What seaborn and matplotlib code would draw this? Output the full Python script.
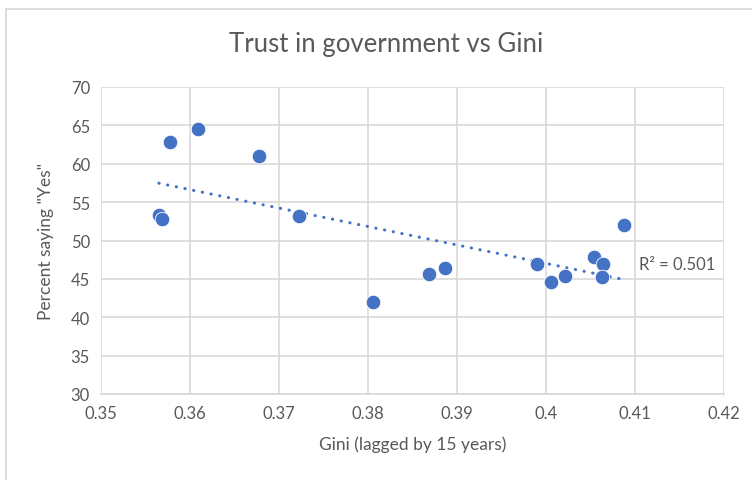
import numpy as np
import pandas as pd
import matplotlib
matplotlib.use("Agg")
import matplotlib.pyplot as plt
from matplotlib.patches import Rectangle
import seaborn as sns

# Gini coefficient (lagged by 15 years) and share of respondents trusting government
gini = [0.3565, 0.3569, 0.3577, 0.3609, 0.3678, 0.3723, 0.3806, 0.3868,
        0.3886, 0.3990, 0.4006, 0.4021, 0.4054, 0.4064, 0.4063, 0.4088]
trust = [53.3, 52.8, 62.8, 64.5, 61.0, 53.2, 42.0, 45.7,
         46.4, 46.9, 44.6, 45.4, 47.9, 46.9, 45.3, 52.0]
x_ticks = [0.35, 0.36, 0.37, 0.38, 0.39, 0.40, 0.41, 0.42]
x_tick_labels = ["0.35", "0.36", "0.37", "0.38", "0.39", "0.4", "0.41", "0.42"]
y_ticks = [30, 35, 40, 45, 50, 55, 60, 65, 70]
r2_label = "R² = 0.501"

df = pd.DataFrame({"gini": gini, "trust": trust})

sns.set_theme(style="white")
plt.rcParams["font.family"] = ["Lato", "DejaVu Sans"]

W, H = 752, 481
fig = plt.figure(figsize=(W / 100, H / 100), dpi=100)
ax = fig.add_axes([101 / W, 1 - 395 / H, (724 - 101) / W, (395 - 88) / H])

text_col = "#595959"
grid_col = "#D9D9D9"
blue = "#4472C4"

# chart-area border
fig.patches.append(Rectangle((6 / W, -0.1), 1.1, 1 - 10 / H + 0.1,
                             transform=fig.transFigure, fill=False,
                             edgecolor=grid_col, linewidth=1.3, zorder=0))

# linear trendline over the data range
slope, intercept = np.polyfit(df["gini"], df["trust"], 1)
xs = np.array([df["gini"].min(), df["gini"].max()])
ax.plot(xs, slope * xs + intercept, color=blue, linewidth=2.2,
        linestyle=(0, (0.1, 2.8)), dash_capstyle="round", zorder=2)

sns.scatterplot(data=df, x="gini", y="trust", ax=ax, color=blue, s=110,
                edgecolor="white", linewidth=0.6, zorder=3, legend=False)

ax.set_xlim(0.35, 0.42)
ax.set_ylim(30, 70)
ax.set_xticks(x_ticks)
ax.set_xticklabels(x_tick_labels)
ax.set_yticks(y_ticks)
ax.grid(True, color=grid_col, linewidth=1.2)
ax.set_axisbelow(True)
for side in ["top", "right", "left"]:
    ax.spines[side].set_visible(False)
ax.spines["bottom"].set_color(grid_col)
ax.spines["bottom"].set_linewidth(1.3)
ax.tick_params(axis="both", length=0, labelsize=12, colors=text_col, pad=8)

ax.set_xlabel("Gini (lagged by 15 years)", fontsize=12.5, color=text_col, labelpad=10)
ax.set_ylabel('Percent saying "Yes"', fontsize=12.5, color=text_col, labelpad=12)

ax.text(0.4105, 47.0, r2_label, fontsize=12, color=text_col, va="center", ha="left")

fig.text(386 / W, 1 - 45 / H, "Trust in government vs Gini", fontsize=18.5,
         color=text_col, ha="center", va="center")

fig.savefig("out.png", dpi=100, facecolor="white")
